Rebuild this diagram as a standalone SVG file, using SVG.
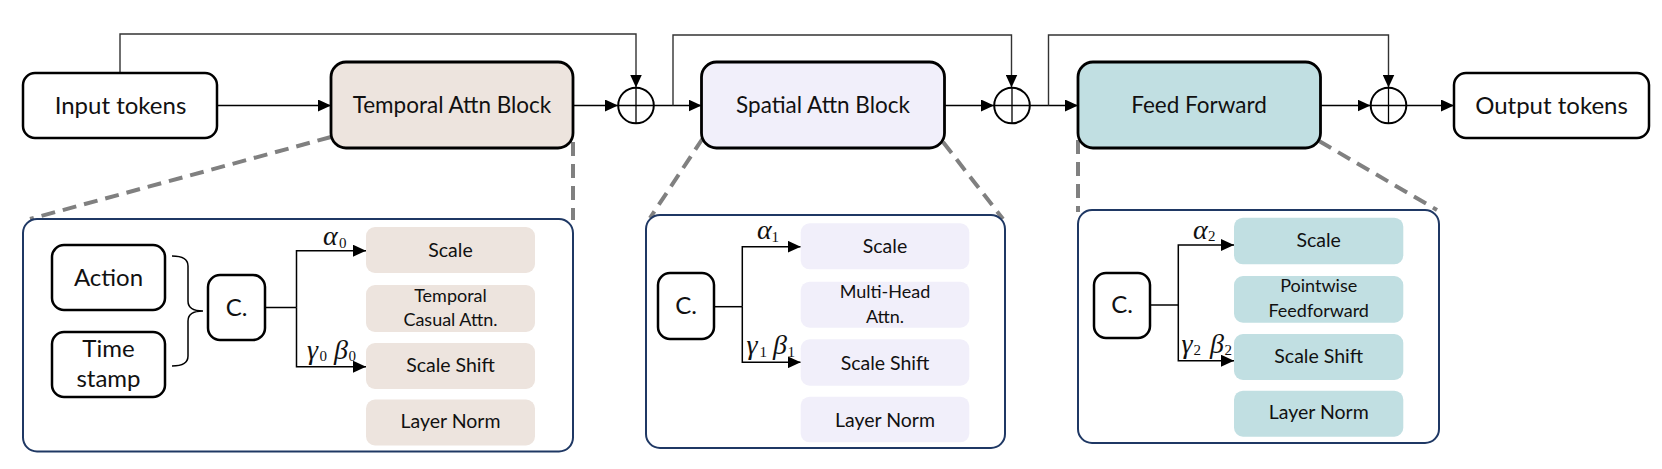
<svg xmlns="http://www.w3.org/2000/svg" width="1662" height="469" viewBox="0 0 1662 469">
<defs>
<marker id="arr" markerUnits="userSpaceOnUse" markerWidth="13" markerHeight="12" refX="13" refY="6" orient="auto">
<path d="M0,0 L13,6 L0,12 z" fill="#000"/>
</marker>
<style>
text{font-family:Lato,"Liberation Sans",sans-serif;fill:#111}
.big{font-size:24px}
.blk{font-size:22.5px}
.sm{font-size:19.5px}
.xs{font-size:18px}
.gk{font-family:"Liberation Serif","DejaVu Serif",serif;font-style:italic;font-size:28px}
.sub{font-family:"Liberation Serif","DejaVu Serif",serif;font-style:normal;font-size:15px}
.io{fill:#fff;stroke:#000;stroke-width:2.5}
.blkbox{stroke:#000;stroke-width:2.8}
.panel{fill:#fff;stroke:#1F3864;stroke-width:2}
.conn{fill:none;stroke:#000;stroke-width:1.5}
.skip{fill:none;stroke:#333;stroke-width:1.4}
.dash{fill:none;stroke:#808080;stroke-width:4;stroke-dasharray:14 8}
.circ{fill:#fff;stroke:#000;stroke-width:2}
.cross{stroke:#000;stroke-width:1.3}
.t{fill:#EDE4DE}
.s{fill:#F1EFFA}
.f{fill:#C1DFE2}
</style>
</defs>
<rect width="1662" height="469" fill="#fff"/>

<g id="zoom-lines">
<line class="dash" x1="331" y1="137" x2="30" y2="219"/>
<line class="dash" x1="573" y1="142" x2="573" y2="220"/>
<line class="dash" x1="703" y1="138" x2="650" y2="218"/>
<line class="dash" x1="943" y1="142" x2="1003" y2="219"/>
<line class="dash" x1="1078" y1="140" x2="1078" y2="212"/>
<line class="dash" x1="1319" y1="141" x2="1437" y2="210"/>
</g>

<g id="panel-temporal-frame"><rect class="panel" x="23" y="219" width="550" height="232.5" rx="14"/></g>
<g id="panel-spatial-frame"><rect class="panel" x="646" y="215" width="359" height="233" rx="14"/></g>
<g id="panel-ff-frame"><rect class="panel" x="1078" y="210" width="361" height="233" rx="14"/></g>

<g id="connectors">
<line class="conn" x1="217" y1="105.5" x2="331" y2="105.5" marker-end="url(#arr)"/>
<path class="skip" d="M120,73 V34 H636 V87.5" marker-end="url(#arr)"/>
<line class="conn" x1="573" y1="105.5" x2="618" y2="105.5" marker-end="url(#arr)"/>
<line class="conn" x1="654" y1="105.5" x2="701.5" y2="105.5" marker-end="url(#arr)"/>
<path class="skip" d="M673,105.5 V35 H1011.5 V87.5" marker-end="url(#arr)"/>
<line class="conn" x1="944.5" y1="105.5" x2="994" y2="105.5" marker-end="url(#arr)"/>
<line class="conn" x1="1030" y1="105.5" x2="1078" y2="105.5" marker-end="url(#arr)"/>
<path class="skip" d="M1048.5,105.5 V35 H1388.5 V87.5" marker-end="url(#arr)"/>
<line class="conn" x1="1320.5" y1="105.5" x2="1370.5" y2="105.5" marker-end="url(#arr)"/>
<line class="conn" x1="1406.5" y1="105.5" x2="1454" y2="105.5" marker-end="url(#arr)"/>
<path class="conn" d="M172,256 Q188,256 188,266 V301 Q188,311 203,311 Q188,311 188,321 V356 Q188,366 172,366" stroke-width="1.2"/>
<path class="conn" d="M265,307.5 H296.5"/>
<path class="conn" d="M296.5,307.5 V250.7 H366" marker-end="url(#arr)"/>
<path class="conn" d="M296.5,307.5 V366.7 H366" marker-end="url(#arr)"/>
<path class="conn" d="M714.3,306.7 H742.3"/>
<path class="conn" d="M742.3,306.7 V246.7 H800.7" marker-end="url(#arr)"/>
<path class="conn" d="M742.3,306.7 V362.3 H800.7" marker-end="url(#arr)"/>
<path class="conn" d="M1150,305 H1178.3"/>
<path class="conn" d="M1178.3,305 V245 H1234" marker-end="url(#arr)"/>
<path class="conn" d="M1178.3,305 V360.7 H1234" marker-end="url(#arr)"/>
</g>

<g id="input-tokens">
<rect class="io" x="23" y="73" width="194" height="65" rx="12"/>
<text class="big" x="120.5" y="113.5" text-anchor="middle">Input tokens</text>
</g>
<g id="temporal-attn-block">
<rect class="blkbox t" x="331" y="62" width="242" height="86" rx="15"/>
<text class="blk" x="452" y="112.5" text-anchor="middle">Temporal Attn Block</text>
</g>
<g id="add-1">
<circle class="circ" cx="636" cy="105.5" r="17.8"/>
<line class="cross" x1="636" y1="87.7" x2="636" y2="123.3"/>
<line class="cross" x1="618.2" y1="105.5" x2="653.8" y2="105.5"/>
</g>
<g id="spatial-attn-block">
<rect class="blkbox s" x="701.5" y="62" width="243" height="86" rx="15"/>
<text class="blk" x="823" y="112.5" text-anchor="middle">Spatial Attn Block</text>
</g>
<g id="add-2">
<circle class="circ" cx="1012" cy="105.5" r="17.8"/>
<line class="cross" x1="1012" y1="87.7" x2="1012" y2="123.3"/>
<line class="cross" x1="994.2" y1="105.5" x2="1029.8" y2="105.5"/>
</g>
<g id="feed-forward">
<rect class="blkbox f" x="1078" y="62" width="242.5" height="86" rx="15"/>
<text class="blk" x="1199" y="112.5" text-anchor="middle">Feed Forward</text>
</g>
<g id="add-3">
<circle class="circ" cx="1388.5" cy="105.5" r="17.8"/>
<line class="cross" x1="1388.5" y1="87.7" x2="1388.5" y2="123.3"/>
<line class="cross" x1="1370.7" y1="105.5" x2="1406.3" y2="105.5"/>
</g>
<g id="output-tokens">
<rect class="io" x="1454" y="73" width="195" height="65" rx="12"/>
<text class="big" x="1551.5" y="113.5" text-anchor="middle">Output tokens</text>
</g>

<g id="panel-temporal">
<g id="action"><rect class="io" x="52" y="245" width="113" height="65" rx="12"/><text class="big" x="108.5" y="285.5" text-anchor="middle">Action</text></g>
<g id="time-stamp"><rect class="io" x="52" y="332" width="113" height="65" rx="12"/><text class="big" x="108.5" y="356.5" text-anchor="middle">Time</text><text class="big" x="108.5" y="386.5" text-anchor="middle">stamp</text></g>
<g id="c-0"><rect class="io" x="208" y="275" width="57" height="65" rx="12"/><text class="big" x="236.5" y="315.5" text-anchor="middle">C.</text></g>
<text class="gk" y="245"><tspan x="323">α</tspan><tspan class="sub" x="339" dy="2.5">0</tspan></text>
<text class="gk" y="358.5"><tspan x="307">γ</tspan><tspan class="sub" x="319.5" dy="2.5">0</tspan><tspan x="334" dy="-2.5">β</tspan><tspan class="sub" x="348.5" dy="2.5">0</tspan></text>
<g id="scale-0"><rect class="t" x="366" y="227" width="169" height="46" rx="9"/><text class="sm" x="450.5" y="256.7" text-anchor="middle">Scale</text></g>
<g id="temporal-casual-attn"><rect class="t" x="366" y="285" width="169" height="47" rx="9"/><text class="xs" x="450.5" y="302.3" text-anchor="middle">Temporal</text><text class="xs" x="450.5" y="325.7" text-anchor="middle">Casual Attn.</text></g>
<g id="scale-shift-0"><rect class="t" x="366" y="343" width="169" height="46" rx="9"/><text class="sm" x="450.5" y="371.7" text-anchor="middle">Scale Shift</text></g>
<g id="layer-norm-0"><rect class="t" x="366" y="399.5" width="169" height="46" rx="9"/><text class="sm" x="450.5" y="428.3" text-anchor="middle">Layer Norm</text></g>
</g>

<g id="panel-spatial">
<g id="c-1"><rect class="io" x="658" y="273" width="56" height="66" rx="12"/><text class="big" x="686" y="313.5" text-anchor="middle">C.</text></g>
<text class="gk" y="239.3"><tspan x="757">α</tspan><tspan class="sub" x="771.5" dy="2.5">1</tspan></text>
<text class="gk" y="354.3"><tspan x="746.5">γ</tspan><tspan class="sub" x="759.5" dy="2.5">1</tspan><tspan x="773" dy="-2.5">β</tspan><tspan class="sub" x="787.5" dy="2.5">1</tspan></text>
<g id="scale-1"><rect class="s" x="800.7" y="223.3" width="168.6" height="46" rx="9"/><text class="sm" x="885" y="253.3" text-anchor="middle">Scale</text></g>
<g id="multi-head-attn"><rect class="s" x="800.7" y="281.7" width="168.6" height="46" rx="9"/><text class="xs" x="885" y="298.3" text-anchor="middle">Multi-Head</text><text class="xs" x="885" y="323.3" text-anchor="middle">Attn.</text></g>
<g id="scale-shift-1"><rect class="s" x="800.7" y="339.3" width="168.6" height="46.4" rx="9"/><text class="sm" x="885" y="370" text-anchor="middle">Scale Shift</text></g>
<g id="layer-norm-1"><rect class="s" x="800.7" y="396.7" width="168.6" height="45.6" rx="9"/><text class="sm" x="885" y="426.7" text-anchor="middle">Layer Norm</text></g>
</g>

<g id="panel-ff">
<g id="c-2"><rect class="io" x="1094" y="273" width="56" height="65" rx="12"/><text class="big" x="1122" y="313.3" text-anchor="middle">C.</text></g>
<text class="gk" y="238.5"><tspan x="1193">α</tspan><tspan class="sub" x="1208" dy="2.5">2</tspan></text>
<text class="gk" y="352.7"><tspan x="1181.5">γ</tspan><tspan class="sub" x="1193.5" dy="2.5">2</tspan><tspan x="1210" dy="-2.5">β</tspan><tspan class="sub" x="1224.5" dy="2.5">2</tspan></text>
<g id="scale-2"><rect class="f" x="1234" y="217.7" width="169.3" height="46.6" rx="9"/><text class="sm" x="1318.7" y="246.7" text-anchor="middle">Scale</text></g>
<g id="pointwise-feedforward"><rect class="f" x="1234" y="276" width="169.3" height="46.7" rx="9"/><text class="xs" x="1318.7" y="292.3" text-anchor="middle">Pointwise</text><text class="xs" x="1318.7" y="316.7" text-anchor="middle">Feedforward</text></g>
<g id="scale-shift-2"><rect class="f" x="1234" y="334" width="169.3" height="46" rx="9"/><text class="sm" x="1318.7" y="363.3" text-anchor="middle">Scale Shift</text></g>
<g id="layer-norm-2"><rect class="f" x="1234" y="390.7" width="169.3" height="46" rx="9"/><text class="sm" x="1318.7" y="419" text-anchor="middle">Layer Norm</text></g>
</g>
</svg>
